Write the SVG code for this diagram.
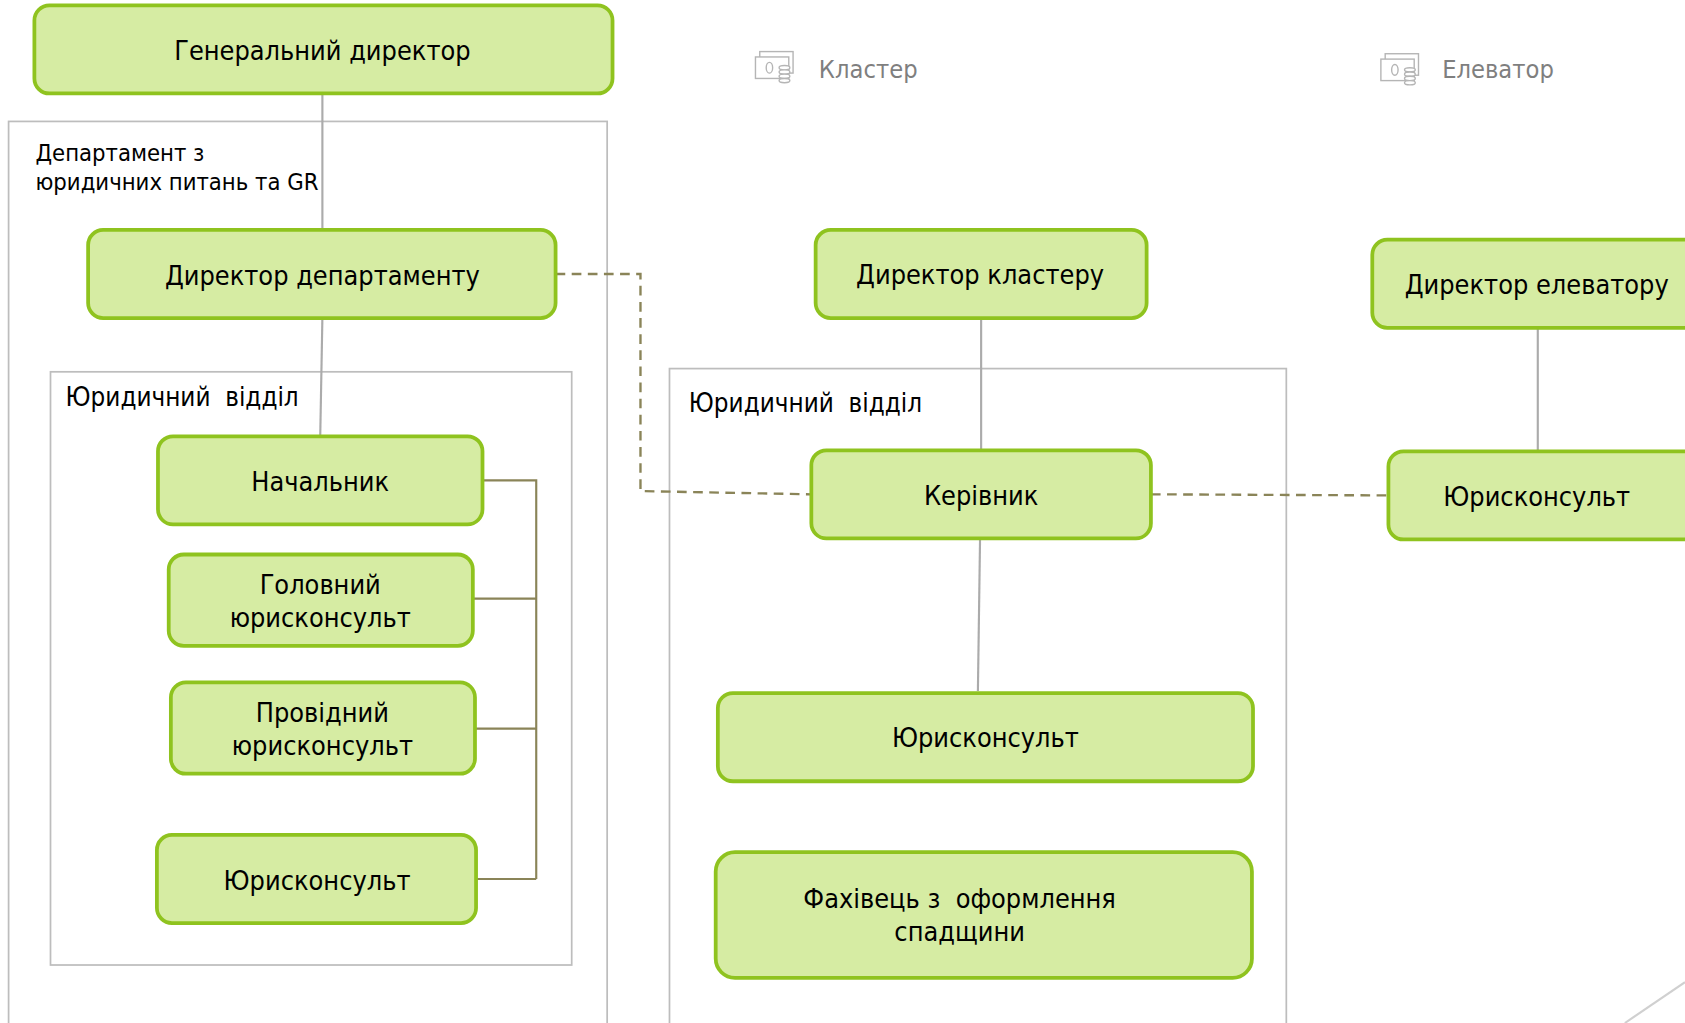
<svg xmlns="http://www.w3.org/2000/svg" width="1685" height="1023" viewBox="0 0 1685 1023">
<style>
.node{fill:#d6eca3;stroke:#8fc31f;stroke-width:3.5}
.frame{fill:none;stroke:#bdbdbd;stroke-width:1.6}
.gline{fill:none;stroke:#ababab;stroke-width:2}
.oline{fill:none;stroke:#8a8458;stroke-width:2}
.dash{fill:none;stroke:#8a8458;stroke-width:2.2;stroke-dasharray:9 6}
.t{font-family:"DejaVu Sans Condensed","DejaVu Sans",sans-serif;font-stretch:condensed;font-size:25px;fill:#000;text-anchor:middle;dominant-baseline:central;white-space:pre}
.lbl{font-family:"DejaVu Sans Condensed","DejaVu Sans",sans-serif;font-stretch:condensed;font-size:22px;fill:#000;white-space:pre}
.sec{font-family:"DejaVu Sans Condensed","DejaVu Sans",sans-serif;font-stretch:condensed;font-size:24px;fill:#000;white-space:pre}
.hdr{font-family:"DejaVu Sans Condensed","DejaVu Sans",sans-serif;font-stretch:condensed;font-size:23.5px;fill:#7f7f7f;dominant-baseline:central}
.icon{fill:#fff;stroke:#b5b5b5;stroke-width:1.3}
</style>
<defs>
<g id="money">
<rect class="icon" x="4" y="0" width="31" height="20"/>
<rect class="icon" x="0" y="5" width="31" height="20"/>
<ellipse class="icon" cx="13" cy="15" rx="3" ry="5"/>
<ellipse class="icon" cx="27" cy="15" rx="5" ry="2"/>
<ellipse class="icon" cx="27" cy="19" rx="5" ry="2"/>
<ellipse class="icon" cx="27" cy="23" rx="5" ry="2"/>
<ellipse class="icon" cx="27" cy="27" rx="5" ry="2"/>
</g>
</defs>
<rect width="1685" height="1023" fill="#fff"/>
<g transform="scale(1.07462)">
<g id="frames">
<rect class="frame" x="8" y="113" width="557" height="860"/>
<text class="lbl" x="33" y="150">Департамент з</text>
<text class="lbl" x="33" y="177">юридичних питань та GR</text>
<rect class="frame" x="47" y="346" width="485" height="552"/>
<text class="sec" x="61" y="378">Юридичний  відділ</text>
<rect class="frame" x="623" y="343" width="574" height="630"/>
<text class="sec" x="641" y="383">Юридичний  відділ</text>
</g>
<g id="headers">
<use href="#money" x="703" y="48"/>
<text class="hdr" x="762" y="65">Кластер</text>
<use href="#money" x="1285" y="50"/>
<text class="hdr" x="1342" y="65">Елеватор</text>
</g>
<g id="connectors">
<path class="gline" d="M300 87 V213"/>
<path class="gline" d="M300 296 L298 406"/>
<path class="oline" d="M449 447 H499 V818 M440 557 H499 M442 678 H499 M443 818 H499"/>
<path class="dash" d="M517 255 H596 V457 L755 460"/>
<path class="gline" d="M913 296 V419"/>
<path class="gline" d="M912 501 L910 643"/>
<path class="dash" d="M1071 460 L1291 461"/>
<path class="gline" d="M1431 305 V420"/>
<path fill="none" stroke="#d0d0d0" stroke-width="2" d="M1512 952 L1568 914"/>
</g>
<g id="n-gen"><rect class="node" x="32" y="5" width="538" height="82" rx="14"/><text class="t" x="300" y="47">Генеральний директор</text></g>
<g id="n-depdir"><rect class="node" x="82" y="214" width="435" height="82" rx="14"/><text class="t" x="300" y="256">Директор департаменту</text></g>
<g id="n-chief"><rect class="node" x="147" y="406" width="302" height="82" rx="14"/><text class="t" x="298" y="448">Начальник</text></g>
<g id="n-head"><rect class="node" x="157" y="516" width="283" height="85" rx="14"/><text class="t" x="298" y="544">Головний</text><text class="t" x="298" y="575">юрисконсульт</text></g>
<g id="n-lead"><rect class="node" x="159" y="635" width="283" height="85" rx="14"/><text class="t" x="300" y="663">Провідний</text><text class="t" x="300" y="694">юрисконсульт</text></g>
<g id="n-jur1"><rect class="node" x="146" y="777" width="297" height="82" rx="14"/><text class="t" x="295" y="819">Юрисконсульт</text></g>
<g id="n-cdir"><rect class="node" x="759" y="214" width="308" height="82" rx="14"/><text class="t" x="912" y="255">Директор кластеру</text></g>
<g id="n-head2"><rect class="node" x="755" y="419" width="316" height="82" rx="14"/><text class="t" x="913" y="461">Керівник</text></g>
<g id="n-jur2"><rect class="node" x="668" y="645" width="498" height="82" rx="14"/><text class="t" x="917" y="686">Юрисконсульт</text></g>
<g id="n-inh"><rect class="node" x="666" y="793" width="499" height="117" rx="18"/><text class="t" x="893" y="836">Фахівець з  оформлення</text><text class="t" x="893" y="867">спадщини</text></g>
<g id="n-edir"><rect class="node" x="1277" y="223" width="320" height="82" rx="14"/><text class="t" x="1430" y="265">Директор елеватору</text></g>
<g id="n-jur3"><rect class="node" x="1292" y="420" width="305" height="82" rx="14"/><text class="t" x="1430" y="462">Юрисконсульт</text></g>
</g>
</svg>
